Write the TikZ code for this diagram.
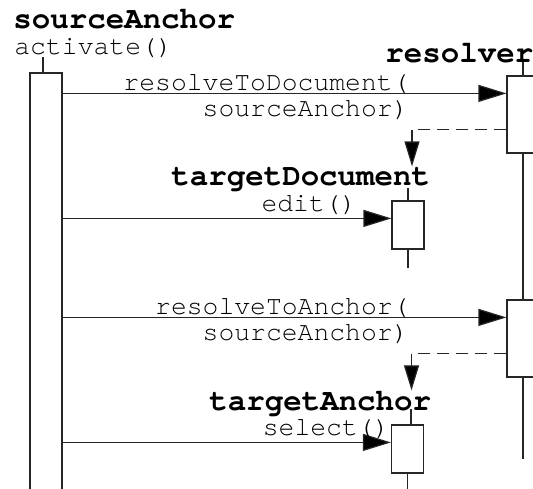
\documentclass[tikz,border=0pt]{standalone}
\usepackage{fontspec}
\setmonofont{TeX Gyre Cursor}
\usetikzlibrary{arrows.meta}

\begin{document}
\begin{tikzpicture}
  [x=0.5pt, y=-0.5pt,
  every node/.style={inner sep=0pt, font=\ttfamily\fontsize{13.2}{13}\selectfont},
  objname/.style={font=\ttfamily\bfseries\fontsize{15.4}{15}\selectfont, anchor=base west},
  call/.style={anchor=base east},
  actbox/.style={draw=black!85, fill=white, line width=0.6pt, minimum width=16pt},
  life/.style={draw=black!85, line width=0.6pt},
  msg/.style={draw=black!85, line width=0.6pt, -{Triangle[length=14pt,width=8.5pt,fill=black]}},
  reply/.style={draw=black!85, line width=0.6pt, dash pattern=on 6pt off 3.5pt,
    -{Triangle[length=12.5pt,width=7.5pt,fill=black]}},
  ]
  \useasboundingbox (0,0) rectangle (533,488);
  \clip (0,0) rectangle (533,488);

  % object names
  \node[objname] (srcname) at (13,28) {sourceAnchor};
  \node[anchor=base west] (activate) at (14,54) {activate()};
  \node[objname] (resname) at (385,62) {resolver};
  \node[objname] (tdocname) at (171,185) {targetDocument};
  \node[objname] (tancname) at (209,410) {targetAnchor};

  % activations
  \node[actbox, minimum height=213.5pt] (src) at (46,286.5) {};
  \node[actbox, minimum height=38.5pt] (res1) at (523,114.5) {};
  \node[actbox, minimum height=38.5pt] (res2) at (523,338.5) {};
  \node[actbox, minimum height=24pt] (tdoc) at (408,225) {};
  \node[actbox, minimum height=24pt] (tanc) at (407.5,449) {};

  % lifelines
  \draw[life] ([xshift=-1.5pt]src.north) -- ++(0,-15);
  \draw[life] (res1.north) -- ++(0,-13);
  \draw[life] (res1.south) -- (res2.north);
  \draw[life] (res2.south) -- ++(0,81);
  \draw[life] (tdoc.north) -- ++(0,-12);
  \draw[life] (tdoc.south) -- ++(0,18);
  \draw[life] ([xshift=1.75pt]tanc.north) -- ++(0,-15);
  \draw[life] (tanc.south) -- ++(0,20);

  % messages
  \coordinate (m1) at ([yshift=-9pt]res1.north west);
  \coordinate (r1) at ([yshift=-27pt]res1.north west);
  \coordinate (m2) at ([yshift=-9pt]tdoc.north west);
  \coordinate (m3) at ([yshift=-9pt]res2.north west);
  \coordinate (r3) at ([yshift=-27pt]res2.north west);
  \coordinate (m4) at ([yshift=-9pt]tanc.north west);

  \draw[msg] (src.east |- m1) -- (m1);
  \draw[reply] (r1) -| ([xshift=2pt]tdoc.north |- tdocname.north);
  \draw[msg] (src.east |- m2) -- (m2);
  \draw[msg] (src.east |- m3) -- (m3);
  \draw[reply] (r3) -| ([xshift=2pt]tanc.north |- tancname.north);
  \draw[msg] (src.east |- m4) -- (m4);

  % message labels
  \node[call] (m1a) at (409,90) {resolveToDocument(};
  \node[call] (m1b) at (409,116) {sourceAnchor)};
  \node[call] (editlbl) at (357,211) {edit()};
  \node[call] (m3a) at (409,314) {resolveToAnchor(};
  \node[call] (m3b) at (409,340) {sourceAnchor)};
  \node[call] (sellbl) at (390,435) {select()};
\end{tikzpicture}
\end{document}
